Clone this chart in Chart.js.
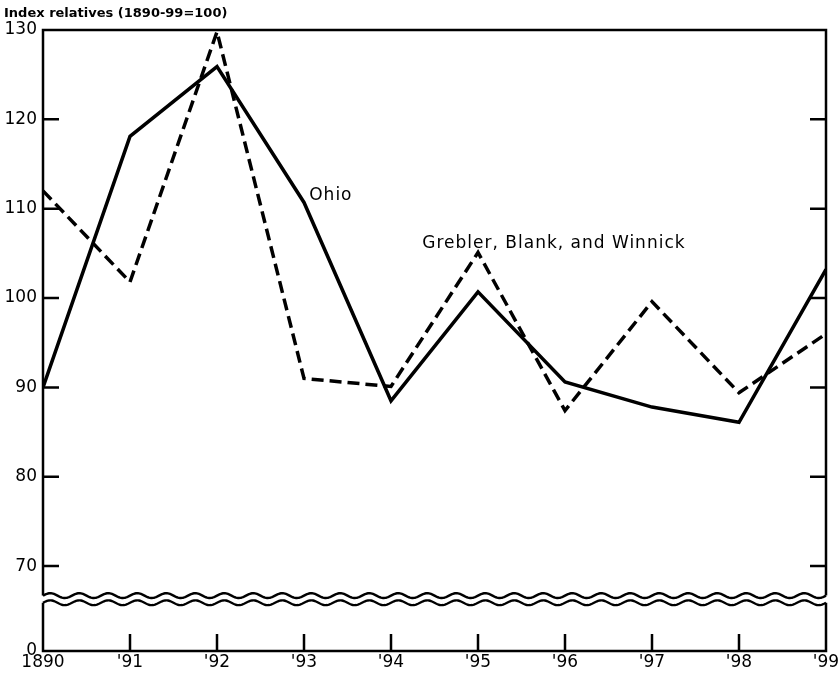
<!DOCTYPE html>
<html>
<head>
<meta charset="utf-8">
<script src="https://cdn.jsdelivr.net/npm/chart.js@4.4.1/dist/chart.umd.min.js"></script>
<style>
  html, body { margin: 0; padding: 0; background: #fff; }
  canvas { display: block; }
</style>
</head>
<body>
<canvas id="chart" width="840" height="674"></canvas>
<script>
const years = ["1890", "'91", "'92", "'93", "'94", "'95", "'96", "'97", "'98", "'99"];
const ohio = [90.0, 118.1, 125.9, 110.7, 88.5, 100.7, 90.6, 87.8, 86.1, 103.2];
const grebler = [112.0, 101.8, 129.8, 91.0, 90.1, 105.1, 87.4, 99.6, 89.4, 96.0];
const yTicks = [70, 80, 90, 100, 110, 120, 130];
const yZero = 60.5;          // where the broken-off "0" sits
const breakBand = [65.9, 66.7];
const title = "Index relatives (1890-99=100)";
const notes = [
  { text: "Ohio", x: 3.06, y: 111.0 },
  { text: "Grebler, Blank, and Winnick", x: 4.36, y: 105.6 },
];

const FONT = "'DejaVu Sans', sans-serif";

const toPoints = (arr) => arr.map((v, i) => ({ x: i, y: v }));

const wave = (ctx, x0, x1, y, amp, period) => {
  ctx.beginPath();
  for (let x = x0; x <= x1; x += 1) {
    const yy = y - amp * Math.sin(((x - x0) / period) * Math.PI * 2);
    if (x === x0) ctx.moveTo(x, yy);
    else ctx.lineTo(x, yy);
  }
  ctx.stroke();
};

const frame = {
  id: "frame",
  afterDraw(chart) {
    const ctx = chart.ctx;
    const { left, right, top, bottom } = chart.chartArea;
    const x = chart.scales.x;
    const y = chart.scales.y;
    const upper = y.getPixelForValue(breakBand[1]);
    const lower = y.getPixelForValue(breakBand[0]);

    ctx.save();
    ctx.strokeStyle = "#000";
    ctx.lineWidth = 2.5;
    ctx.lineCap = "butt";
    ctx.lineJoin = "miter";

    // box, broken at the wave band
    ctx.beginPath();
    ctx.moveTo(left, upper);
    ctx.lineTo(left, top);
    ctx.lineTo(right, top);
    ctx.lineTo(right, upper);
    ctx.moveTo(left, lower);
    ctx.lineTo(left, bottom);
    ctx.lineTo(right, bottom);
    ctx.lineTo(right, lower);
    ctx.stroke();

    // break marks
    ctx.lineWidth = 2.4;
    wave(ctx, left, right, upper, 2.4, 29);
    wave(ctx, left, right, lower, 2.4, 29);

    // tick marks pointing inward
    ctx.lineWidth = 2.5;
    ctx.beginPath();
    yTicks.forEach((v) => {
      const py = y.getPixelForValue(v);
      if (v < 130) {
        ctx.moveTo(left, py);
        ctx.lineTo(left + 16, py);
        ctx.moveTo(right, py);
        ctx.lineTo(right - 16, py);
      }
    });
    years.forEach((_, i) => {
      if (i === 0 || i === years.length - 1) return;
      const px = x.getPixelForValue(i);
      ctx.moveTo(px, bottom);
      ctx.lineTo(px, bottom - 17);
    });
    ctx.stroke();

    // title
    ctx.fillStyle = "#000";
    ctx.textAlign = "left";
    ctx.textBaseline = "alphabetic";
    ctx.font = "bold 13px " + FONT;
    ctx.fillText(title, 4, 17);

    // series labels
    ctx.font = "17px " + FONT;
    ctx.letterSpacing = "1px";
    notes.forEach((n) => {
      ctx.fillText(n.text, x.getPixelForValue(n.x), y.getPixelForValue(n.y));
    });
    ctx.restore();
  },
};

new Chart(document.getElementById("chart"), {
  type: "line",
  data: {
    datasets: [
      {
        label: "Ohio",
        data: toPoints(ohio),
        borderColor: "#000",
        borderWidth: 3.5,
        pointRadius: 0,
        tension: 0,
      },
      {
        label: "Grebler, Blank, and Winnick",
        data: toPoints(grebler),
        borderColor: "#000",
        borderWidth: 3.5,
        borderDash: [12, 6],
        pointRadius: 0,
        tension: 0,
      },
    ],
  },
  options: {
    responsive: false,
    animation: false,
    layout: { padding: { left: 0, right: 14, top: 30, bottom: 0 } },
    plugins: {
      legend: { display: false },
      tooltip: { enabled: false },
    },
    scales: {
      x: {
        type: "linear",
        min: 0,
        max: years.length - 1,
        grid: { display: false, drawTicks: false },
        border: { display: false },
        afterBuildTicks: (scale) => {
          scale.ticks = years.map((_, i) => ({ value: i }));
        },
        afterFit: (scale) => {
          scale.height = 23;
          scale.paddingLeft = 0;
          scale.paddingRight = 0;
        },
        ticks: {
          color: "#000",
          font: { family: FONT, size: 17 },
          padding: 1,
          maxRotation: 0,
          autoSkip: false,
          callback: (v) => years[v],
        },
      },
      y: {
        min: yZero,
        max: 130,
        grid: { display: false, drawTicks: false },
        border: { display: false },
        afterBuildTicks: (scale) => {
          scale.ticks = [yZero, ...yTicks].map((v) => ({ value: v }));
        },
        afterFit: (scale) => {
          scale.width = 43;
        },
        ticks: {
          color: "#000",
          font: { family: FONT, size: 17 },
          padding: 6,
          callback: (v) => (v === yZero ? "0" : String(v)),
        },
      },
    },
  },
  plugins: [frame],
});
</script>
</body>
</html>
